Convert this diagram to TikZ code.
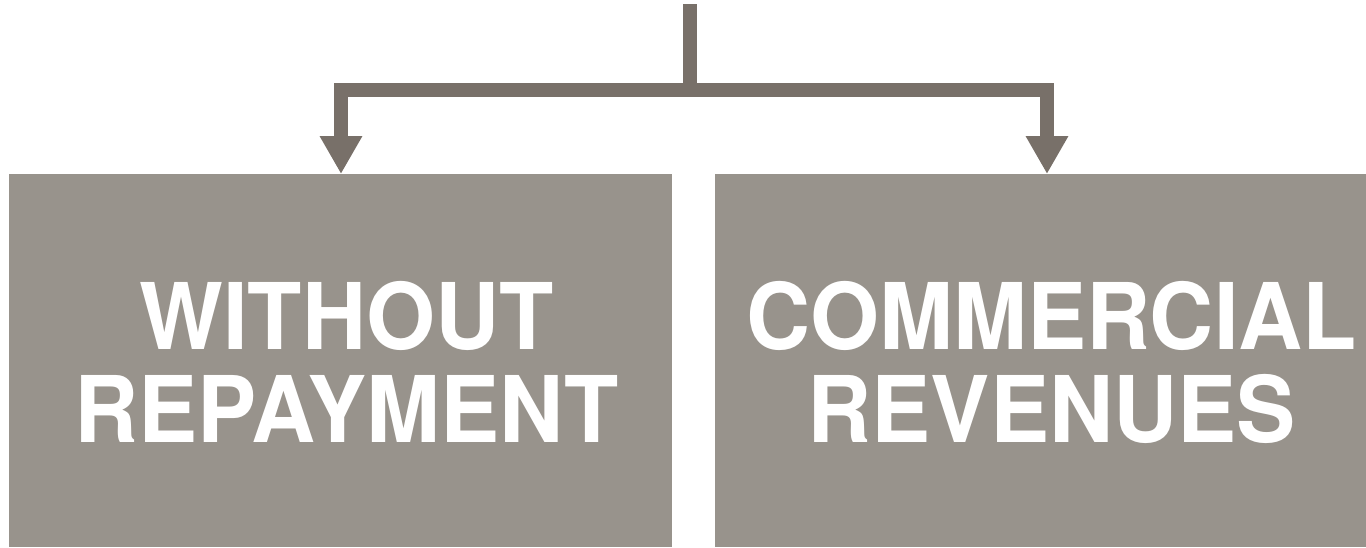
\documentclass[tikz,border=0pt]{standalone}
\usepackage{fontspec}
\setmainfont[FakeStretch=0.965]{TeX Gyre Heros}
\usetikzlibrary{arrows.meta,calc}
\definecolor{boxgray}{RGB}{152,147,140}
\definecolor{conngray}{RGB}{120,112,105}
\begin{document}
\begin{tikzpicture}[x=1pt,y=-1pt,
  box/.style={fill=boxgray,draw=none,inner sep=0pt,anchor=north west},
  lbl/.style={text=white,align=center,inner sep=0pt,
    font=\fontsize{92}{93}\selectfont\bfseries},
  conn/.style={draw=conngray,line width=13.5pt,line join=miter,line cap=butt},
  tip/.style={-{Triangle[width=40pt,length=38pt]}}]
\useasboundingbox (0,0) rectangle (1366,547);
\node[box,minimum width=663.5pt,minimum height=373pt] (left) at (8.5,174) {};
\node[box,minimum width=651pt,minimum height=373pt] (right) at (715,174) {};
\node[lbl] (ltext) at ($(left.center)+(6,1.5)$) {WITHOUT\\REPAYMENT};
\node[lbl] (rtext) at ($(right.center)+(11,1.5)$) {COMMERCIAL\\REVENUES};
\coordinate (top) at (690,4);
\coordinate (junc) at (690,90);
\coordinate (ltip) at ($(left.north west)+(332.5,0)$);
\coordinate (rtip) at ($(right.north west)+(332,0)$);
\draw[conn] (top) -- (junc);
\draw[conn,tip] (junc) -| (ltip);
\draw[conn,tip] (junc) -| (rtip);
\end{tikzpicture}
\end{document}
